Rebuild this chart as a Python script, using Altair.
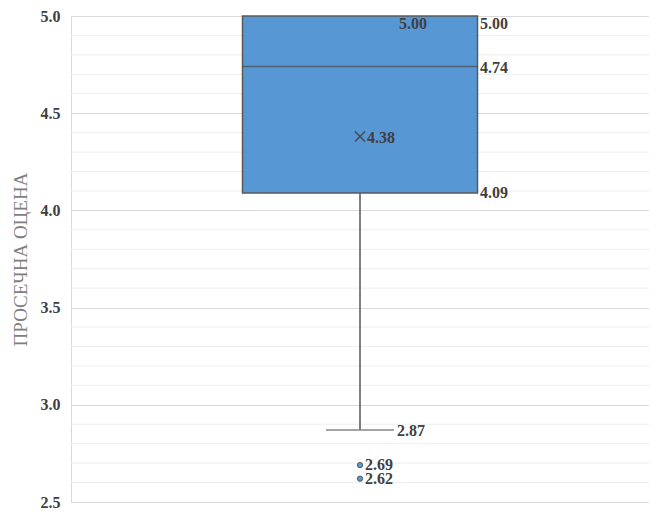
import altair as alt
import pandas as pd

category = ["ПРОСЕЧНА ОЦЕНА"]
q1 = [4.09]
median = [4.74]
q3 = [5.00]
mean = [4.38]
whisker_low = [2.87]
whisker_high = [5.00]
outliers = [2.69, 2.62]
major_ticks = [2.5, 3.0, 3.5, 4.0, 4.5, 5.0]
minor_ticks = [2.6, 2.7, 2.8, 2.9, 3.1, 3.2, 3.3, 3.4, 3.6, 3.7, 3.8, 3.9,
               4.1, 4.2, 4.3, 4.4, 4.6, 4.7, 4.8, 4.9]

box_df = pd.DataFrame({"cat": category, "q1": q1, "median": median, "q3": q3,
                       "mean": mean, "low": whisker_low, "high": whisker_high})
out_df = pd.DataFrame({"cat": category * len(outliers), "v": outliers})
minor_df = pd.DataFrame({"v": minor_ticks})

FONT = "Liberation Serif"
TXT = "#404040"

yscale = alt.Scale(domain=[2.5, 5.0], nice=False, zero=False)
xenc = alt.X("cat:N", axis=None)

yaxis = alt.Axis(values=major_ticks, format=".1f", grid=True, gridColor="#d9d9d9",
                 ticks=False, domain=True, domainColor="#d9d9d9",
                 labelFont=FONT, labelFontWeight="bold", labelFontSize=16, labelColor=TXT,
                 labelPadding=11, title="ПРОСЕЧНА ОЦЕНА", titleFont=FONT,
                 titleFontWeight="normal", titleFontSize=19, titleColor="#7f7f7f",
                 titlePadding=10)

minor = alt.Chart(minor_df).mark_rule(color="#eeeeee", strokeWidth=1).encode(
    y=alt.Y("v:Q", scale=yscale, axis=yaxis))

base = alt.Chart(box_df)

whisker = base.mark_rule(color="#7f7f7f", strokeWidth=2).encode(
    x=xenc, y=alt.Y("low:Q", scale=yscale), y2="q1:Q")
cap = base.mark_tick(size=68, thickness=2, color="#7f7f7f").encode(
    x=xenc, y=alt.Y("low:Q", scale=yscale))
box = base.mark_bar(size=235, color="#5797D3", stroke="#595959", strokeWidth=1.5).encode(
    x=xenc, y=alt.Y("q1:Q", scale=yscale), y2="q3:Q")
med = base.mark_tick(size=235, thickness=1.5, color="#4a4a4a").encode(
    x=xenc, y=alt.Y("median:Q", scale=yscale))
mean_pt = base.mark_point(shape="M-1,-1L1,1M1,-1L-1,1", size=100, filled=False,
                          stroke="#4a4a4a", strokeWidth=1.5, opacity=1).encode(
    x=xenc, y=alt.Y("mean:Q", scale=yscale))
out_pts = alt.Chart(out_df).mark_point(shape="circle", size=28, filled=True,
                                       fill="#5B9BD5", stroke="#404040",
                                       strokeWidth=0.8, opacity=1).encode(
    x=xenc, y=alt.Y("v:Q", scale=yscale))

def label(field, dx, dy=0, align="left", baseline="middle", data=base, fmt=".2f"):
    return data.mark_text(font=FONT, fontWeight="bold", fontSize=16, color=TXT,
                          align=align, baseline=baseline, dx=dx, dy=dy).encode(
        x=xenc, y=alt.Y(f"{field}:Q", scale=yscale),
        text=alt.Text(f"{field}:Q", format=fmt))

lab_high_in = label("high", 53, 8, align="center")
lab_q3 = label("q3", 120, 8)
lab_med = label("median", 120, 1)
lab_q1 = label("q1", 120, 0)
lab_mean = label("mean", 7, 1)
lab_low = label("low", 37, 1)
lab_out = label("v", 5, 0, data=alt.Chart(out_df))

chart = alt.layer(minor, whisker, cap, box, med, mean_pt, out_pts,
                  lab_high_in, lab_q3, lab_med, lab_q1, lab_mean, lab_low, lab_out).properties(
    width=578, height=486,
    autosize=alt.AutoSizeParams(type="none"),
    padding={"left": 63, "top": 8, "right": 0, "bottom": 8},
).configure_view(stroke=None).configure(background="white")

chart.save("out.html", embed_options={"renderer": "svg", "actions": False})
